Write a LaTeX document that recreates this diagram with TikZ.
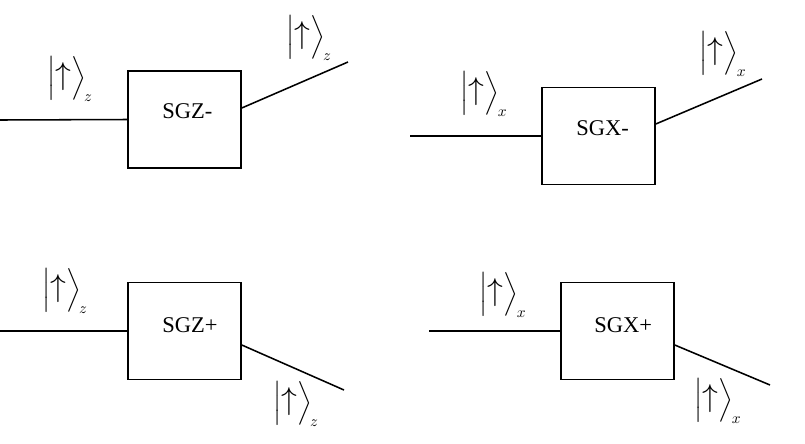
\documentclass[tikz,border=0pt]{standalone}
\usepackage{fontspec}
\setmainfont{Liberation Serif}
\usepackage{amsmath}
\usepackage{tikz}
\usetikzlibrary{calc, positioning}
\newcommand{\ketup}[1]{$\Bigl|\mathord{\scalebox{1.3}{$\uparrow$}}\Bigr\rangle_{\mkern-2mu#1}$}

\begin{document}
\begin{tikzpicture}[
  x=0.025cm, y=-0.025cm,
  sgbox/.style={draw, line width=1.1pt, minimum width=2.825cm, minimum height=2.43cm, inner sep=0pt},
  sgtext/.style={anchor=base west, inner sep=0pt, font=\fontsize{16}{19}\selectfont},
  ketlbl/.style={inner sep=0pt, font=\fontsize{16}{19}\selectfont},
  beam/.style={line width=1.1pt},
]
\useasboundingbox (0,0) rectangle (805,443);
%% Stern-Gerlach boxes
\node[sgbox] (sgzm) at (184.5,119.5) {};
\node[sgbox] (sgxm) at (598.5,136) {};
\node[sgbox] (sgzp) at (184.5,331) {};
\node[sgbox] (sgxp) at (617.5,331) {};
%% Box texts
\node[sgtext] (tzm) at (162,118) {SGZ-};
\node[sgtext] (txm) at (576,135) {SGX-};
\node[sgtext] (tzp) at (162,332) {SGZ+};
\node[sgtext] (txp) at (594,332) {SGX+};
%% Beam ends
\coordinate (inzm) at (0,120);
\coordinate (outzm) at (348,62);
\coordinate (inxm) at (410,136);
\coordinate (outxm) at (762,79);
\coordinate (inzp) at (0,331);
\coordinate (outzp) at (344,390);
\coordinate (inxp) at (429,331);
\coordinate (outxp) at (770,385);
%% Beams
\draw[beam] (inzm) -- (sgzm.west);
\draw[beam] ($(sgzm.east)+(0,-11.5)$) -- (outzm);
\draw[beam] (inxm) -- (sgxm.west);
\draw[beam] ($(sgxm.east)+(0,-12)$) -- (outxm);
\draw[beam] (inzp) -- (sgzp.west);
\draw[beam] ($(sgzp.east)+(0,14)$) -- (outzp);
\draw[beam] (inxp) -- (sgxp.west);
\draw[beam] ($(sgxp.east)+(0,14)$) -- (outxp);
%% State labels
\node[ketlbl] (kzm1) at (70,79) {\ketup{z}};
\node[ketlbl] (kzm2) at (309,38) {\ketup{z}};
\node[ketlbl] (kxm1) at (484,94) {\ketup{x}};
\node[ketlbl] (kxm2) at (723,54) {\ketup{x}};
\node[ketlbl] (kzp1) at (65,291) {\ketup{z}};
\node[ketlbl] (kzp2) at (296,404) {\ketup{z}};
\node[ketlbl] (kxp1) at (503,295) {\ketup{x}};
\node[ketlbl] (kxp2) at (718,401) {\ketup{x}};
\end{tikzpicture}
\end{document}
